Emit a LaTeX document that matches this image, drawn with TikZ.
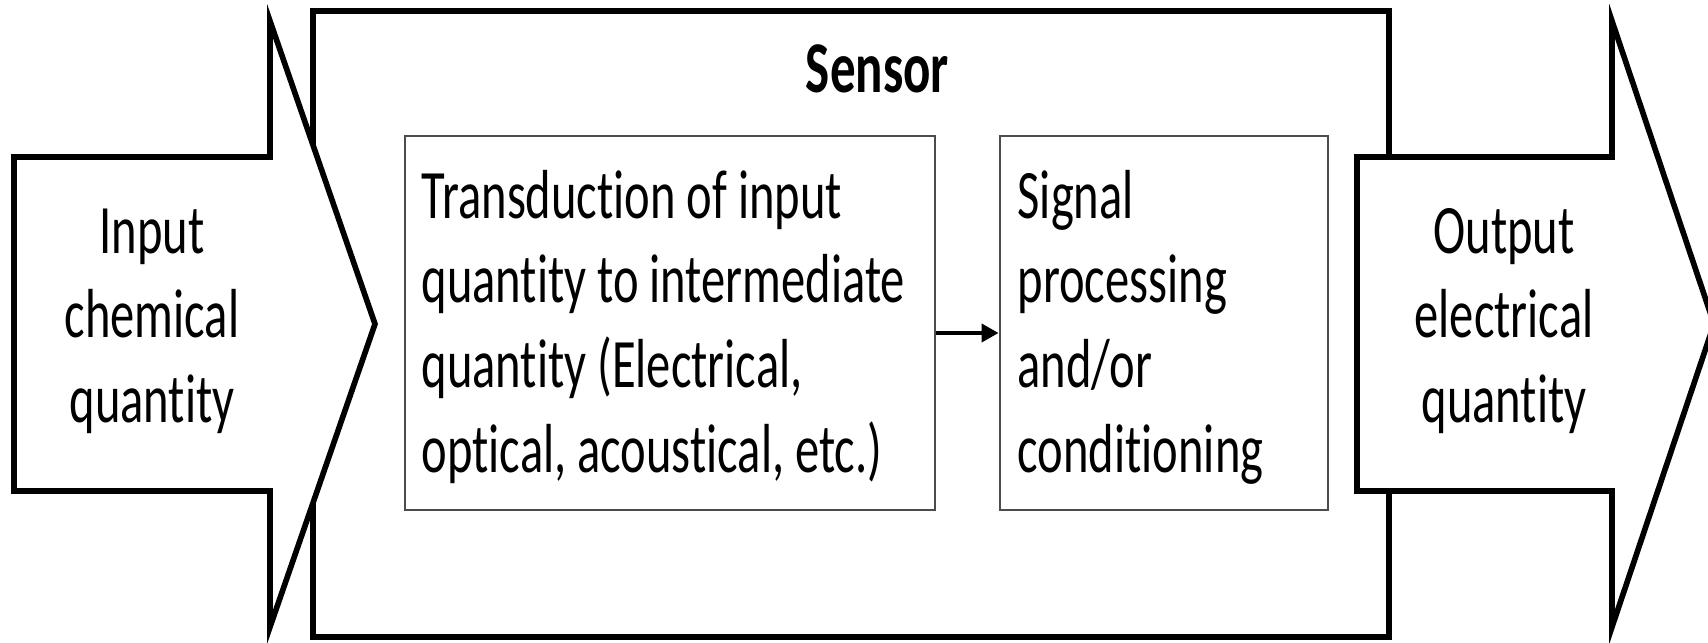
\documentclass[tikz,border=0pt]{standalone}
\usepackage{fontspec}
\setmainfont{Carlito}[Ligatures={NoCommon}]
\usepackage{graphicx}
\usetikzlibrary{arrows.meta}
\newcommand{\tallcell}[2]{\scalebox{1}[1.43]{\begin{tabular}{@{}#1@{}}#2\end{tabular}}}
\begin{document}
\begin{tikzpicture}[x=0.01cm,y=-0.01cm,
  bigshape/.style={draw=black,line width=1.6pt,fill=white,line join=miter},
  stagebox/.style={draw=black!70,line width=0.75pt,fill=white,inner sep=0pt},
  txt/.style={inner sep=0pt,font=\fontsize{13.8}{16.9}\selectfont},
  flow/.style={line width=1.1pt,-{Triangle[length=0.17cm,width=0.18cm]}}]
\useasboundingbox (0,0) rectangle (1708,643);
% sensor frame
\draw[bigshape] (313,11) rectangle (1389,637);
% input arrow
\draw[bigshape] (14,157) -- (270,157) -- (270,21) -- (375,324) -- (270,627) -- (270,491) -- (14,491) -- cycle;
% output arrow
\draw[bigshape] (1357,157) -- (1612,157) -- (1612,21) -- (1714,324) -- (1612,627) -- (1612,491) -- (1357,491) -- cycle;
% stage boxes
\node[stagebox, minimum width=5.30cm, minimum height=3.74cm] (box1) at (670,323) {};
\node[stagebox, minimum width=3.28cm, minimum height=3.74cm] (box2) at (1164,323) {};
% texts
\node[txt, font=\fontsize{14.5}{17}\selectfont\bfseries, anchor=base] (sensor) at (877.5,93) {\scalebox{1}[1.43]{Sensor}};
\node[txt, anchor=west] (t1) at (421,328.5) {\tallcell{l}{Transduction of input\\quantity to intermediate\\quantity (Electrical,\\optical, acoustical, etc.)}};
\node[txt, anchor=west] (t2) at (1017,328.5) {\tallcell{l}{Signal\\processing\\and/or\\conditioning}};
\node[txt] (intext) at (152,321) {\tallcell{c}{Input\\chemical\\quantity}};
\node[txt] (outtext) at (1504,321) {\tallcell{c}{Output\\electrical\\quantity}};
% connector
\draw[flow] ([yshift=-0.1cm]box1.east) -- ([yshift=-0.1cm]box2.west);
\end{tikzpicture}
\end{document}
